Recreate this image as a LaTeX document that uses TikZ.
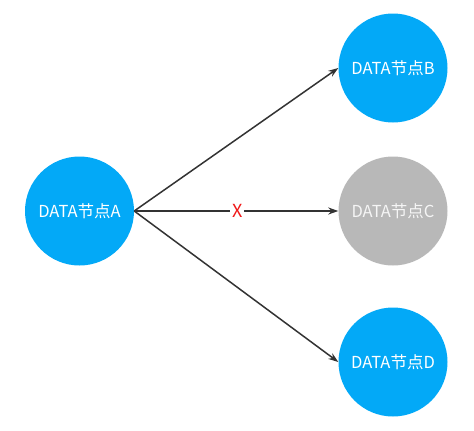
\documentclass[tikz,border=0pt]{standalone}
\usepackage{fontspec}
\setmainfont{Noto Sans CJK SC}
\usetikzlibrary{positioning,arrows.meta}
\definecolor{nodeblue}{HTML}{03A9F7}
\definecolor{nodegray}{HTML}{B8B8B8}
\definecolor{linegray}{HTML}{333333}
\definecolor{crossred}{HTML}{F01818}

\begin{document}
\begin{tikzpicture}[x=1pt,y=-1pt,
      datanode/.style={circle,minimum size=109pt,inner sep=0pt,text=white,font=\fontsize{16.5}{18}\selectfont},
      link/.style={draw=linegray,line width=1.5pt,-{Stealth[length=10pt,width=7pt]}}]
    \useasboundingbox (0,0) rectangle (474,431);
    % nodes
    \node[datanode,fill=nodeblue,minimum height=105pt] (a) at (79.5,211) {DATA节点A};
    \node[datanode,fill=nodeblue] (b) at (393,68) {DATA节点B};
    \node[datanode,fill=nodegray,text=white!92!gray] (c) at (393,211) {DATA节点C};
    \node[datanode,fill=nodeblue] (d) at (393,362) {DATA节点D};
    % links
    \draw[link] (a.east) -- (b.west);
    \draw[link] (a.east) -- (c.west)
      node[pos=0.505,fill=white,inner sep=2pt,text=crossred,font=\fontsize{18}{18}\selectfont] (x) {X};
    \draw[link] (a.east) -- (d.west);
  \end{tikzpicture}
\end{document}
